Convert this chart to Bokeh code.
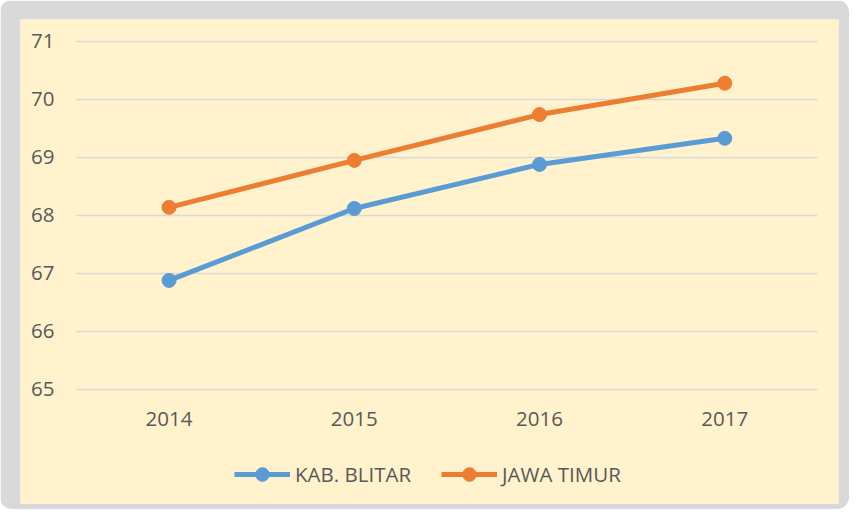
from bokeh.plotting import figure
from bokeh.models import (Range1d, FixedTicker, Legend, LegendItem, ColumnDataSource)
from bokeh.embed import file_html
from bokeh.resources import INLINE

years = ["2014", "2015", "2016", "2017"]
kab_blitar = [66.88, 68.12, 68.88, 69.33]
jawa_timur = [68.14, 68.95, 69.74, 70.28]
y_ticks = [65, 66, 67, 68, 69, 70, 71]

BLUE = "#5B9BD5"
ORANGE = "#ED7D31"
CREAM = "#FFF2CC"
GRAY = "#D9D9D9"
TEXT = "#595959"
FONT = "Open Sans"
FS = "20.5px"

x_idx = list(range(len(years)))

p = figure(width=849, height=509,
           x_range=Range1d(-0.802, 3.614), y_range=Range1d(63.034, 71.379),
           output_backend="svg", toolbar_location=None,
           min_border_left=20, min_border_right=11, min_border_top=19, min_border_bottom=6)
p.border_fill_color = GRAY
p.background_fill_color = CREAM
p.outline_line_color = None
p.styles = {"border-radius": "12px", "overflow": "hidden"}
p.xgrid.grid_line_color = None
p.ygrid.grid_line_color = None

# horizontal gridlines spanning the category area only
grid_src = ColumnDataSource(dict(y=y_ticks))
p.segment(x0=-0.5, x1=len(years) - 0.5, y0="y", y1="y", source=grid_src,
          line_color=GRAY, line_width=1.6)

src1 = ColumnDataSource(dict(x=x_idx, y=kab_blitar))
src2 = ColumnDataSource(dict(x=x_idx, y=jawa_timur))
l1 = p.line("x", "y", source=src1, line_color=BLUE, line_width=5)
s1 = p.scatter("x", "y", source=src1, size=14, fill_color=BLUE, line_color=BLUE)
l2 = p.line("x", "y", source=src2, line_color=ORANGE, line_width=5)
s2 = p.scatter("x", "y", source=src2, size=14, fill_color=ORANGE, line_color=ORANGE)

p.yaxis.ticker = FixedTicker(ticks=y_ticks)
p.xaxis.ticker = FixedTicker(ticks=x_idx)
p.xaxis.major_label_overrides = {i: y for i, y in zip(x_idx, years)}

for ax in (p.xaxis, p.yaxis):
    ax.axis_line_color = None
    ax.major_tick_line_color = None
    ax.minor_tick_line_color = None
    ax.major_label_text_font = FONT
    ax.major_label_text_font_size = FS
    ax.major_label_text_color = TEXT
p.yaxis.major_label_standoff = -40
p.xaxis.major_label_standoff = -98

legend = Legend(items=[LegendItem(label="KAB. BLITAR", renderers=[l1, s1]),
                       LegendItem(label="JAWA TIMUR", renderers=[l2, s2])],
                orientation="horizontal", location=(211, 9),
                background_fill_alpha=0, border_line_alpha=0,
                label_text_font=FONT, label_text_font_size=FS, label_text_color=TEXT,
                glyph_width=56, glyph_height=34, spacing=30, label_standoff=5,
                padding=3, margin=0)
p.add_layout(legend)

open("out.html", "w").write(file_html(p, INLINE))
